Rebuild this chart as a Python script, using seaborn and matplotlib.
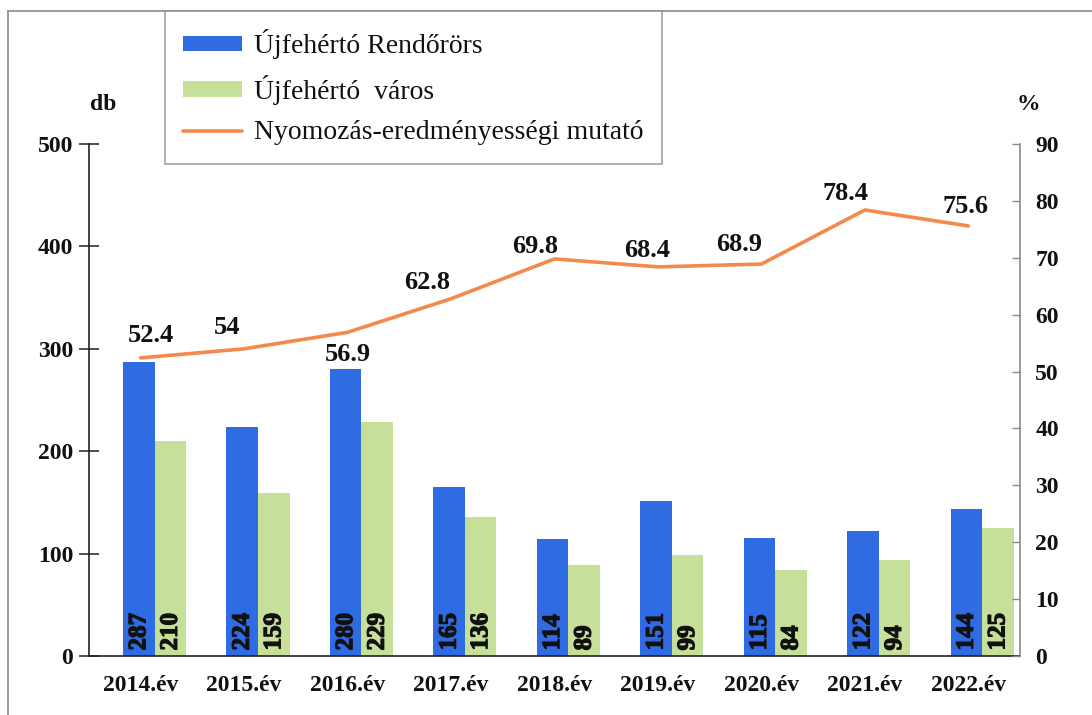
import numpy as np
import pandas as pd
import matplotlib
matplotlib.use("Agg")
import matplotlib.pyplot as plt
import matplotlib.patheffects as pe
from matplotlib.patches import Patch
from matplotlib.lines import Line2D
from matplotlib.ticker import FixedLocator
import seaborn as sns

# --- adatok ---
evek = ['2014.év', '2015.év', '2016.év', '2017.év', '2018.év',
        '2019.év', '2020.év', '2021.év', '2022.év']
rendororrs = [287, 224, 280, 165, 114, 151, 115, 122, 144]
varos = [210, 159, 229, 136, 89, 99, 84, 94, 125]
mutato = [52.4, 54, 56.9, 62.8, 69.8, 68.4, 68.9, 78.4, 75.6]

sorozatok = ['Újfehértó Rendőrörs', 'Újfehértó  város']
vonal_nev = 'Nyomozás-eredményességi mutató'

# címkék eltolása (pont)
cimke_eltolas = [(7, 16), (-12, 15), (0, -16), (-17, 12), (-14, 9),
                 (-8, 12), (-16, 14), (-14, 12), (-2, 14)]

KEK = '#2F6BE3'
ZOLD = '#C6E09A'
NARANCS = '#F38A4C'
SZURKE = '#8a8a8a'

sns.set_theme(style='white')
plt.rcParams['font.family'] = ['Liberation Serif', 'DejaVu Serif']

df = pd.DataFrame({
    'ev': evek * 2,
    'sorozat': [sorozatok[0]] * len(evek) + [sorozatok[1]] * len(evek),
    'db': rendororrs + varos,
})

fig = plt.figure(figsize=(10.92, 7.15), dpi=100)
ax = fig.add_axes([89 / 1092, 59 / 715, 931 / 1092, 512 / 715])

sns.barplot(data=df, x='ev', y='db', hue='sorozat', palette=[KEK, ZOLD],
            width=0.61, gap=0, dodge=True, saturation=1, legend=False, ax=ax)

# oszlopok kissé jobbra tolva, mint az eredetin
for p in ax.patches:
    p.set_x(p.get_x() + 0.134)
    p.set_linewidth(0)

vastag = [pe.withStroke(linewidth=0.9, foreground='#111111')]
for cont in ax.containers:
    for p in cont:
        h = p.get_height()
        ax.annotate(f'{h:.0f}', (p.get_x() + p.get_width() / 2, 0),
                    xytext=(0, 4), textcoords='offset points',
                    rotation=90, ha='center', va='bottom',
                    fontsize=18, fontweight='bold', color='#111111',
                    path_effects=vastag)

ax.set_xlim(-0.5, len(evek) - 0.5)
ax.set_ylim(0, 500)
ax.set_xlabel('')
ax.set_ylabel('')
ax.set_yticks(range(0, 501, 100))
ax.set_xticks(range(len(evek)))
ax.set_xticklabels(evek)
ax.xaxis.set_minor_locator(FixedLocator(np.arange(0.5, len(evek) - 0.5, 1)))
ax.tick_params(axis='x', which='major', length=0, pad=14,
               labelsize=17, labelcolor='#111111')
ax.tick_params(axis='x', which='minor', direction='inout', length=16,
               width=1.1, color='#222222')
ax.tick_params(axis='y', direction='inout', length=15, width=1.1,
               color='#222222', pad=4, labelsize=17, labelcolor='#111111')
ax.tick_params(left=True, bottom=True)
for lab in ax.get_xticklabels() + ax.get_yticklabels():
    lab.set_fontweight('bold')
for s in ['top', 'right']:
    ax.spines[s].set_visible(False)
for s in ['left', 'bottom']:
    ax.spines[s].set_color('#222222')
    ax.spines[s].set_linewidth(1.2)

# másodlagos tengely: mutató
ax2 = ax.twinx()
sns.lineplot(x=np.arange(len(evek)), y=mutato, color=NARANCS, linewidth=2.6,
             ax=ax2)
ax2.set_ylim(0, 90)
ax2.set_yticks(range(0, 91, 10))
ax2.tick_params(axis='y', direction='in', length=6, width=1, color=SZURKE,
                pad=11, labelsize=17, labelcolor='#111111', right=True)
for lab in ax2.get_yticklabels():
    lab.set_fontweight('bold')
for s in ['top', 'left', 'bottom']:
    ax2.spines[s].set_visible(False)
ax2.spines['right'].set_color(SZURKE)
ax2.spines['right'].set_linestyle((0, (2, 1)))
ax2.spines['right'].set_linewidth(1.2)

for i, (v, off) in enumerate(zip(mutato, cimke_eltolas)):
    ax2.annotate(f'{v:g}', (i, v), xytext=off, textcoords='offset points',
                 ha='center', va='center', fontsize=19, fontweight='bold',
                 color='#111111')

fig.text(103 / 1092, 1 - 105 / 715, 'db', ha='center', va='center',
         fontsize=17, fontweight='bold', color='#111111')
fig.text(1028 / 1092, 1 - 105 / 715, '%', ha='center', va='center',
         fontsize=17, fontweight='bold', color='#111111')

# jelmagyarázat
kezelok = [Patch(facecolor=KEK, edgecolor='none'),
           Patch(facecolor=ZOLD, edgecolor='none'),
           Line2D([0], [0], color=NARANCS, linewidth=2.6)]
leg = fig.legend(kezelok, sorozatok + [vonal_nev], loc='upper left',
                 bbox_to_anchor=(165 / 1092, 1 - 11 / 715), frameon=True,
                 fancybox=False, edgecolor=SZURKE, fontsize=20,
                 handlelength=2.1, handleheight=0.5, handletextpad=0.45,
                 labelspacing=0.56, borderpad=0.66, borderaxespad=0)
leg.get_frame().set_linewidth(1.2)
for t in leg.get_texts():
    t.set_color('#111111')

# külső keret vonalai
fig.add_artist(Line2D([8 / 1092, 1], [1 - 11 / 715, 1 - 11 / 715],
                      transform=fig.transFigure, color=SZURKE, linewidth=1.2))
fig.add_artist(Line2D([8 / 1092, 8 / 1092], [0, 1 - 11 / 715],
                      transform=fig.transFigure, color=SZURKE, linewidth=1.2))

fig.savefig('out.png', dpi=100)
